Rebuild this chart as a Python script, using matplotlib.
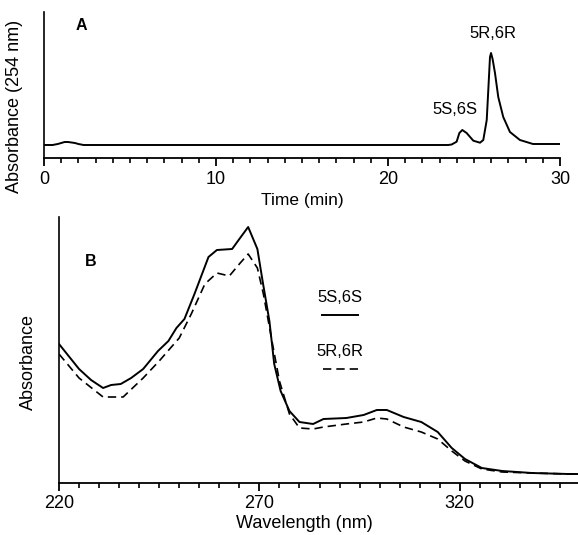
import numpy as np
import matplotlib
matplotlib.use("Agg")
import matplotlib.pyplot as plt
from matplotlib.ticker import MultipleLocator

plt.rcParams['font.family'] = ['Liberation Sans', 'DejaVu Sans']

# Panel A: HPLC trace (absorbance at 254 nm, arbitrary units)
time_min = [0.0, 0.5, 0.8, 1.0, 1.2, 1.4, 1.6, 1.8, 2.0, 2.3, 5.0, 10.0, 15.0, 20.0,
            23.0, 23.5, 23.7, 23.99, 24.15, 24.32, 24.57, 24.96, 25.35, 25.54,
            25.74, 25.84, 25.93, 25.99, 26.08, 26.22, 26.41, 26.7, 27.09, 27.67,
            28.43, 29.0, 30.0]
absorb_a = [0, 0, 1, 2, 3, 3, 2.5, 2, 1, 0, 0, 0, 0, 0,
            0, 0, 0.5, 3.3, 12, 15, 12, 4.3, 2.3, 5,
            25, 58, 88, 92, 86, 72, 48, 28, 13, 5,
            1, 1, 1]
time_ticks = [0, 10, 20, 30]
peak_labels = ["5S,6S", "5R,6R"]

# Panel B: UV spectra of the two isomers
wl_s = [220, 225, 228, 231, 233, 235.4, 238, 241, 244.7, 247.3, 249.3, 251.3, 253.8,
        257.3, 259.4, 263.2, 265, 267.2, 269.5, 270.8, 272.5, 273.7, 275.3, 277.5,
        280, 283.4, 286, 291.7, 296, 299.3, 301.8, 306, 310.4, 314.5, 318, 321.3,
        325.5, 330.6, 338, 347, 350]
abs_s = [139, 114, 103, 95, 98, 99, 105, 114, 132, 142, 155, 164, 189,
         226, 233, 234, 244, 256, 234, 202, 162, 119, 92, 72,
         61, 59, 64, 65, 68, 73, 73, 66, 61, 51, 35, 24,
         15, 12, 10, 9, 9]
wl_r = [220, 225, 231, 236, 241, 245, 250, 253, 256.4, 259.4, 262.5, 265, 267.2,
        269.5, 271, 273, 275, 277.5, 280, 283.4, 286, 291.7, 296, 299.3, 301.8,
        306, 310.4, 314.5, 318, 321.3, 325.5, 330.6, 338, 347, 350]
abs_r = [129, 105, 86, 86, 105, 122, 145, 169, 199, 210, 207, 219, 229,
         215, 189, 145, 102, 69, 55, 54, 56, 59, 61, 65, 64,
         56, 51, 44, 32, 22, 14, 11, 10, 9, 9]
wl_ticks = [220, 270, 320]
series_labels = ["5S,6S", "5R,6R"]

W, H = 578, 535
fig = plt.figure(figsize=(W / 100, H / 100), dpi=100)

def style(ax, major, minor):
    for s in ("top", "right"):
        ax.spines[s].set_visible(False)
    ax.spines["left"].set_linewidth(1.2)
    ax.spines["bottom"].set_linewidth(1.3)
    ax.set_yticks([])
    ax.set_xticks(major)
    ax.xaxis.set_minor_locator(MultipleLocator(minor))
    ax.tick_params(axis="x", which="major", length=6, width=1.3, direction="out",
                   labelsize=13, pad=3)
    ax.tick_params(axis="x", which="minor", length=3.5, width=1.2, direction="out")

# ---- Panel A ----
axA = fig.add_axes([44 / W, 1 - 158 / H, (560 - 44) / W, (158 - 12) / H])
axA.plot(time_min, absorb_a, color="black", lw=1.4)
axA.set_xlim(0, 30)
axA.set_ylim(-13, 133)
style(axA, time_ticks, 1)
axA.set_xlabel("Time (min)", fontsize=12.5, labelpad=4)
axA.text(23.9, 35, peak_labels[0], fontsize=12, ha="center", va="center")
axA.text(26.1, 112, peak_labels[1], fontsize=12, ha="center", va="center")
axA.text(0.073, 0.91, "A", transform=axA.transAxes, fontsize=11.5,
         fontweight="bold", ha="center", va="center")
fig.text(15 / W, 1 - 106 / H, "Absorbance (254 nm)", rotation=90,
         fontsize=13, ha="center", va="center")

# ---- Panel B ----
axB = fig.add_axes([59 / W, 1 - 483 / H, (578 - 59) / W, (483 - 217) / H])
axB.plot(wl_s, abs_s, color="black", lw=1.4, ls="-")
axB.plot(wl_r, abs_r, color="black", lw=1.2, ls=(0, (5, 3)))
axB.set_xlim(220, 349.5)
axB.set_ylim(0, 266)
style(axB, wl_ticks, 5)
axB.text(0.061, 0.833, "B", transform=axB.transAxes, fontsize=11.5,
         fontweight="bold", ha="center", va="center")

# legend drawn as text above a line sample
axB.text(290.1, 185, series_labels[0], fontsize=12, ha="center", va="center")
axB.plot([285.6, 294.6], [168, 168], color="black", lw=1.4)
axB.text(290.1, 131, series_labels[1], fontsize=12, ha="center", va="center")
axB.plot([285.8, 295.8], [114, 114], color="black", lw=1.2, ls=(0, (5, 3)))

fig.text(28 / W, 1 - 362 / H, "Absorbance", rotation=90,
         fontsize=13, ha="center", va="center")
fig.text(304 / W, 1 - 523 / H, "Wavelength (nm)", fontsize=13,
         ha="center", va="center")

fig.savefig("out.png", dpi=100)
